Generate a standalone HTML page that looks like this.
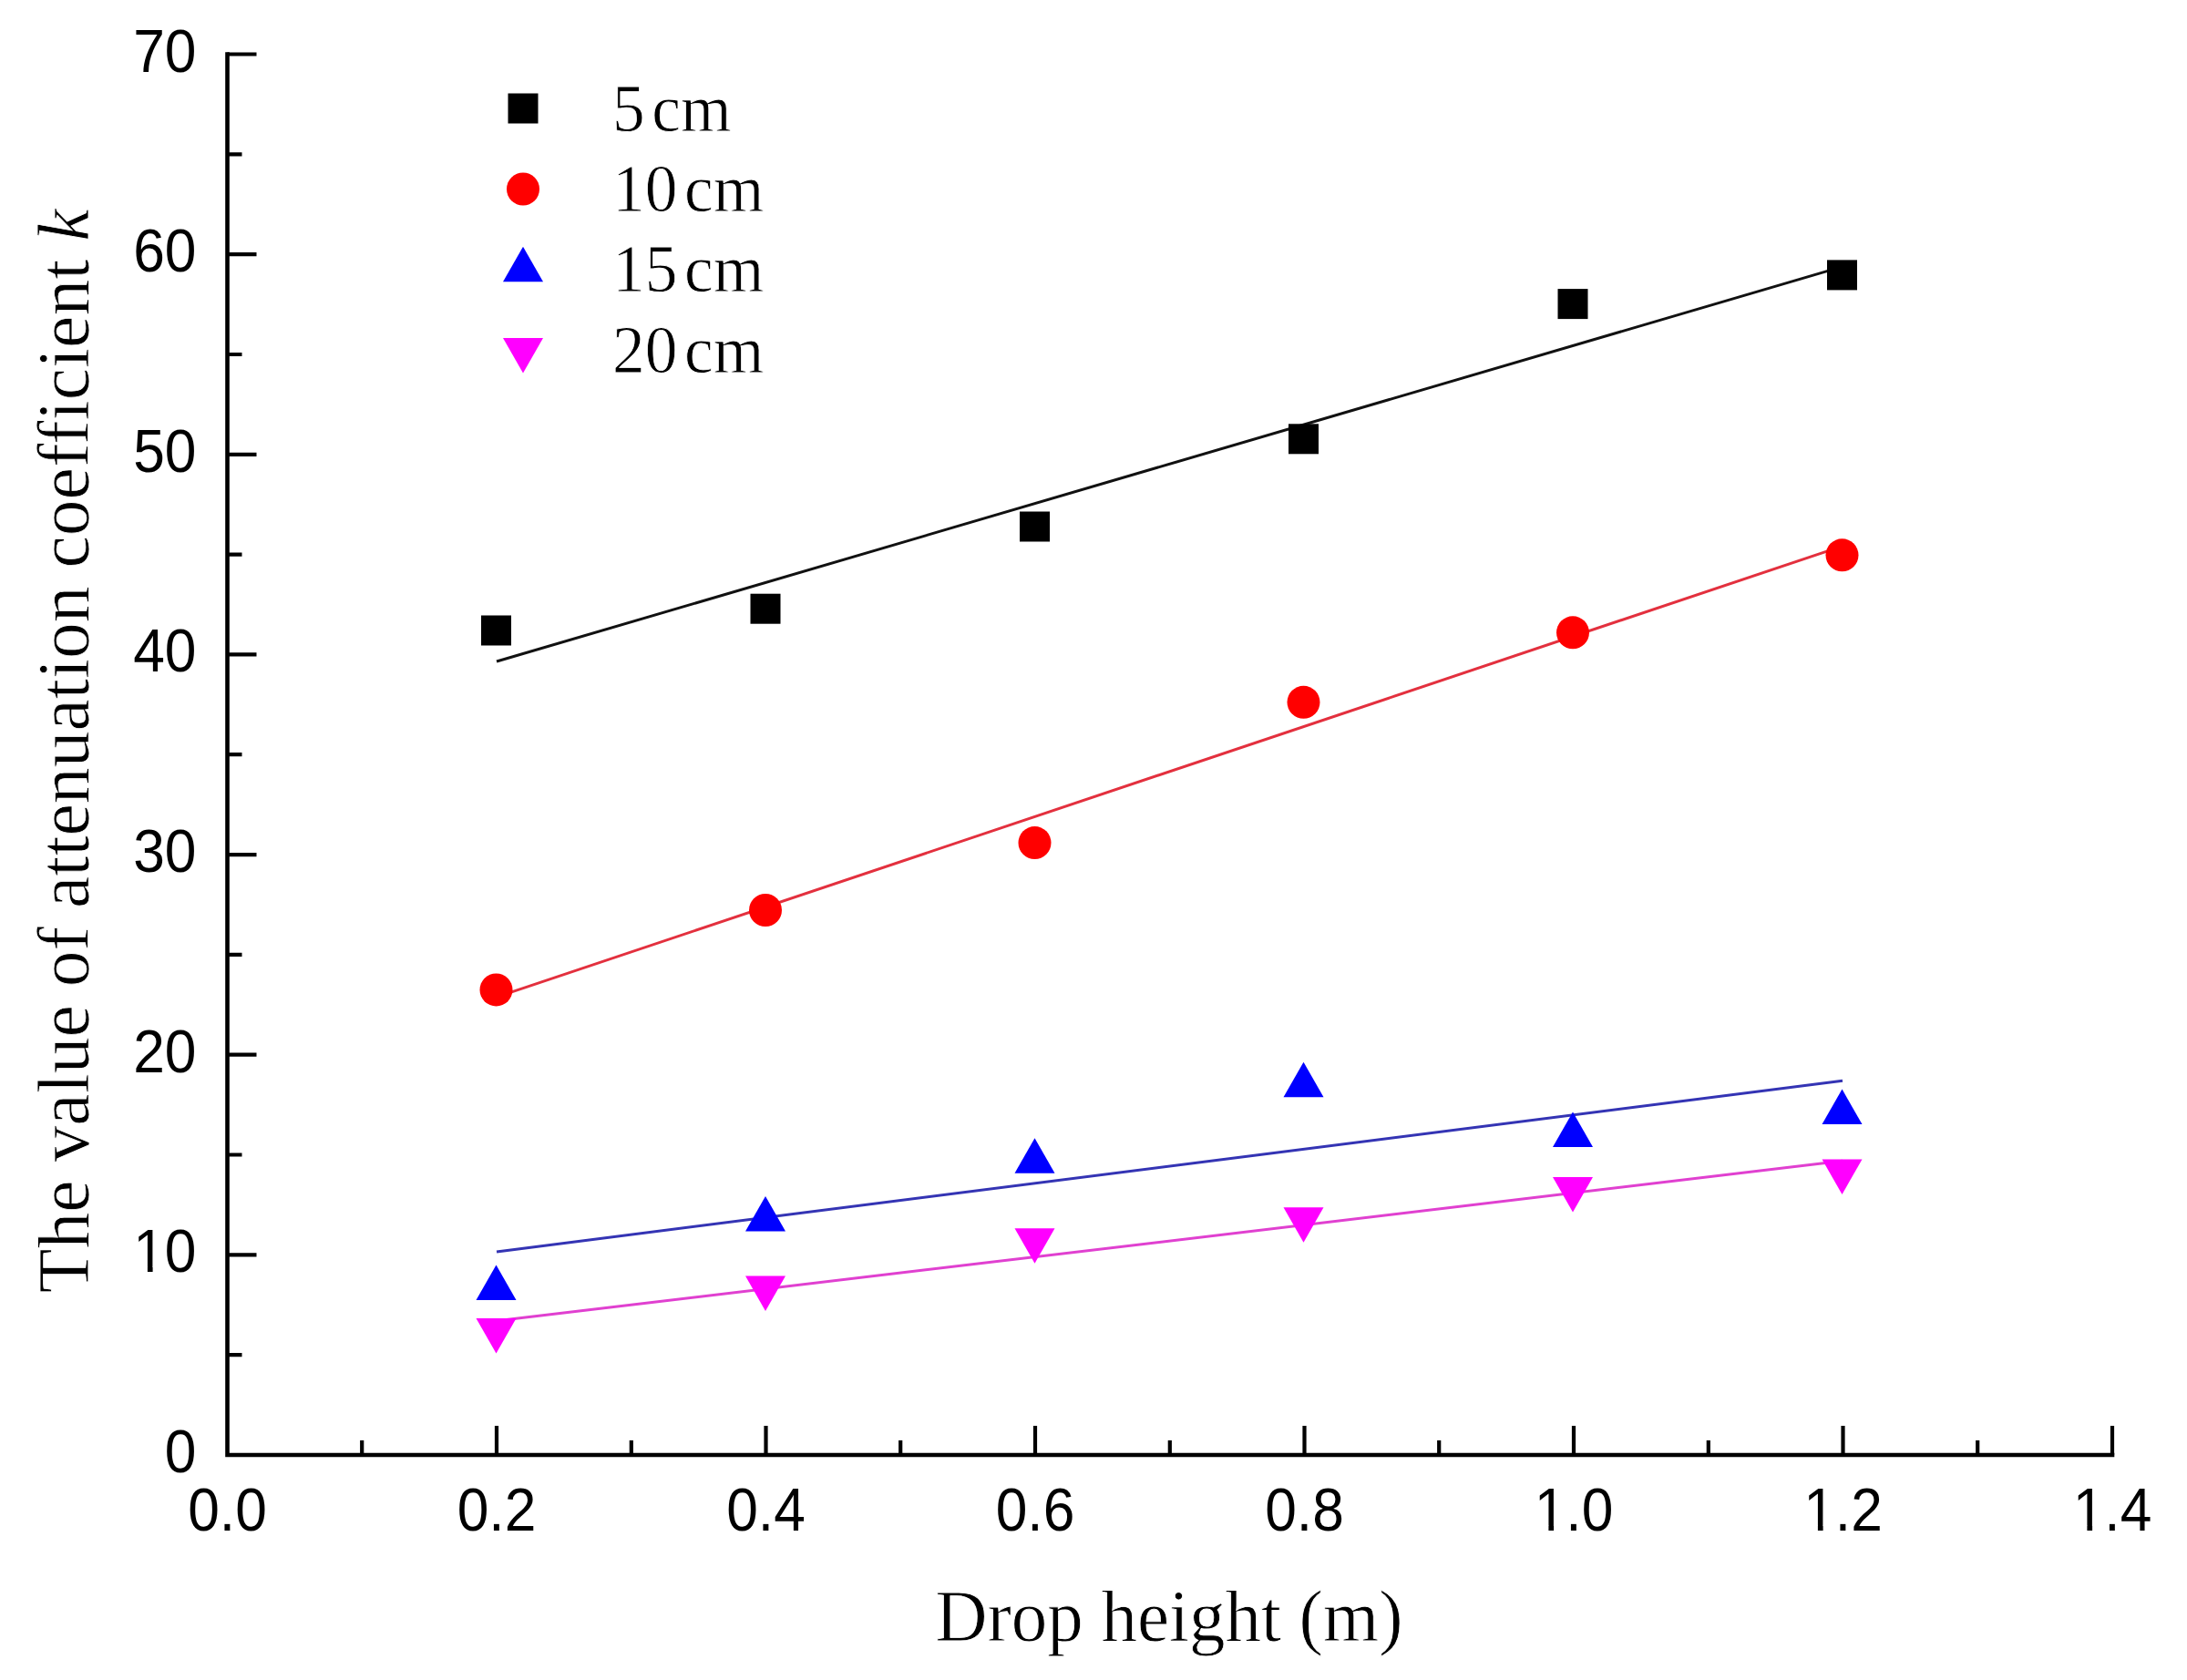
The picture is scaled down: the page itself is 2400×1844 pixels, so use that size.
<!DOCTYPE html>
<html><head><meta charset="utf-8"><title>Attenuation coefficient vs drop height</title>
<style>html,body{margin:0;padding:0;background:#fff;}svg{display:block;}.tl{font-family:"Liberation Sans",Arial,sans-serif;font-size:67px;fill:#000;}.tt{font-family:"Liberation Serif","Times New Roman",serif;fill:#000;stroke:#fff;stroke-width:0.8px;}</style></head><body>
<svg width="2400" height="1844" viewBox="0 0 2400 1844">
<rect width="2400" height="1844" fill="#fff"/>
<line x1="545" y1="726.0" x2="2022" y2="292.6" stroke="#111" stroke-width="3.0"/>
<line x1="545" y1="1094.4" x2="2022" y2="599.3" stroke="#e3303e" stroke-width="3.0"/>
<line x1="545" y1="1373.9" x2="2022" y2="1186.2" stroke="#3434b4" stroke-width="3.0"/>
<line x1="545" y1="1449.8" x2="2022" y2="1274.3" stroke="#e040d0" stroke-width="3.0"/>
<path d="M249.5 59.5 V1597.0 H2318.0" fill="none" stroke="#000" stroke-width="4.6" stroke-linejoin="miter" stroke-linecap="square"/>
<path d="M397.2 1597.0 V1581.0 M545.0 1597.0 V1565.0 M692.8 1597.0 V1581.0 M840.5 1597.0 V1565.0 M988.2 1597.0 V1581.0 M1136.0 1597.0 V1565.0 M1283.8 1597.0 V1581.0 M1431.5 1597.0 V1565.0 M1579.2 1597.0 V1581.0 M1727.0 1597.0 V1565.0 M1874.8 1597.0 V1581.0 M2022.5 1597.0 V1565.0 M2170.2 1597.0 V1581.0 M2318.0 1597.0 V1565.0 M249.5 1487.2 H265.5 M249.5 1377.4 H281.5 M249.5 1267.5 H265.5 M249.5 1157.7 H281.5 M249.5 1047.9 H265.5 M249.5 938.1 H281.5 M249.5 828.2 H265.5 M249.5 718.4 H281.5 M249.5 608.6 H265.5 M249.5 498.8 H281.5 M249.5 389.0 H265.5 M249.5 279.1 H281.5 M249.5 169.3 H265.5 M249.5 59.5 H281.5" fill="none" stroke="#000" stroke-width="4.2"/>
<text class="tl" transform="translate(249.5 1679.5) scale(0.93 1)" text-anchor="middle">0.0</text>
<text class="tl" transform="translate(545.0 1679.5) scale(0.93 1)" text-anchor="middle">0.2</text>
<text class="tl" transform="translate(840.5 1679.5) scale(0.93 1)" text-anchor="middle">0.4</text>
<text class="tl" transform="translate(1136.0 1679.5) scale(0.93 1)" text-anchor="middle">0.6</text>
<text class="tl" transform="translate(1431.5 1679.5) scale(0.93 1)" text-anchor="middle">0.8</text>
<text class="tl" transform="translate(1727.0 1679.5) scale(0.93 1)" text-anchor="middle">1.0</text>
<text class="tl" transform="translate(2022.5 1679.5) scale(0.93 1)" text-anchor="middle">1.2</text>
<text class="tl" transform="translate(2318.0 1679.5) scale(0.93 1)" text-anchor="middle">1.4</text>
<text class="tl" transform="translate(215.5 1616.0) scale(0.93 1)" text-anchor="end">0</text>
<text class="tl" transform="translate(215.5 1396.4) scale(0.93 1)" text-anchor="end">10</text>
<text class="tl" transform="translate(215.5 1176.7) scale(0.93 1)" text-anchor="end">20</text>
<text class="tl" transform="translate(215.5 957.1) scale(0.93 1)" text-anchor="end">30</text>
<text class="tl" transform="translate(215.5 737.4) scale(0.93 1)" text-anchor="end">40</text>
<text class="tl" transform="translate(215.5 517.8) scale(0.93 1)" text-anchor="end">50</text>
<text class="tl" transform="translate(215.5 298.1) scale(0.93 1)" text-anchor="end">60</text>
<text class="tl" transform="translate(215.5 78.5) scale(0.93 1)" text-anchor="end">70</text>
<rect x="1686.0" y="1674.6" width="13.4" height="6.4" fill="#fff"/>
<rect x="1705.1" y="1674.6" width="12.9" height="6.4" fill="#fff"/>
<rect x="1981.5" y="1674.6" width="13.4" height="6.4" fill="#fff"/>
<rect x="2000.6" y="1674.6" width="12.9" height="6.4" fill="#fff"/>
<rect x="2277.0" y="1674.6" width="13.4" height="6.4" fill="#fff"/>
<rect x="2296.1" y="1674.6" width="12.9" height="6.4" fill="#fff"/>
<rect x="149.0" y="1390.6" width="12.9" height="6.4" fill="#fff"/>
<rect x="167.6" y="1390.6" width="12.4" height="6.4" fill="#fff"/>
<rect x="528.0" y="675.5" width="33" height="33" fill="#000"/>
<rect x="823.5" y="651.7" width="33" height="33" fill="#000"/>
<rect x="1119.0" y="561.5" width="33" height="33" fill="#000"/>
<rect x="1414.0" y="465.3" width="33" height="33" fill="#000"/>
<rect x="1709.5" y="317.1" width="33" height="33" fill="#000"/>
<rect x="2005.0" y="285.4" width="33" height="33" fill="#000"/>
<circle cx="544.5" cy="1086.4" r="18" fill="#f00"/>
<circle cx="840.0" cy="999.0" r="18" fill="#f00"/>
<circle cx="1135.5" cy="925.1" r="18" fill="#f00"/>
<circle cx="1430.5" cy="770.8" r="18" fill="#f00"/>
<circle cx="1726.0" cy="694.3" r="18" fill="#f00"/>
<circle cx="2021.5" cy="609.3" r="18" fill="#f00"/>
<polygon points="544.5,1388.5 566.5,1427.0 522.5,1427.0" fill="#00f"/>
<polygon points="840.0,1313.0 862.0,1351.5 818.0,1351.5" fill="#00f"/>
<polygon points="1135.5,1249.2 1157.5,1287.7 1113.5,1287.7" fill="#00f"/>
<polygon points="1430.5,1165.8 1452.5,1204.3 1408.5,1204.3" fill="#00f"/>
<polygon points="1726.0,1220.5 1748.0,1259.0 1704.0,1259.0" fill="#00f"/>
<polygon points="2021.5,1195.5 2043.5,1234.0 1999.5,1234.0" fill="#00f"/>
<polygon points="522.5,1447.0 566.5,1447.0 544.5,1485.5" fill="#f0f"/>
<polygon points="818.0,1400.5 862.0,1400.5 840.0,1439.0" fill="#f0f"/>
<polygon points="1113.5,1348.2 1157.5,1348.2 1135.5,1386.8" fill="#f0f"/>
<polygon points="1408.5,1325.2 1452.5,1325.2 1430.5,1363.7" fill="#f0f"/>
<polygon points="1704.0,1292.0 1748.0,1292.0 1726.0,1330.5" fill="#f0f"/>
<polygon points="1999.5,1272.4 2043.5,1272.4 2021.5,1310.9" fill="#f0f"/>
<rect x="557.5" y="102.5" width="33" height="33" fill="#000"/>
<circle cx="574.0" cy="207.5" r="18" fill="#f00"/>
<polygon points="574.0,270.7 596.0,309.2 552.0,309.2" fill="#00f"/>
<polygon points="552.0,370.9 596.0,370.9 574.0,409.4" fill="#f0f"/>
<text class="tt" transform="translate(672 143.8) scale(0.952 1)" font-size="75">5<tspan dx="8">cm</tspan></text>
<text class="tt" transform="translate(672 231.5) scale(0.952 1)" font-size="75">10<tspan dx="8">cm</tspan></text>
<text class="tt" transform="translate(672 319.5) scale(0.952 1)" font-size="75">15<tspan dx="8">cm</tspan></text>
<text class="tt" transform="translate(672 408.5) scale(0.952 1)" font-size="75">20<tspan dx="8">cm</tspan></text>
<text class="tt" transform="translate(1283 1800.5) scale(0.975 1)" font-size="81" text-anchor="middle">Drop height (m)</text>
<text class="tt" transform="translate(97 824.3) rotate(-90)" x="0" y="0" font-size="79.6" text-anchor="middle">The value of attenuation coefficient <tspan font-style="italic">k</tspan></text>
</svg>
</body></html>
